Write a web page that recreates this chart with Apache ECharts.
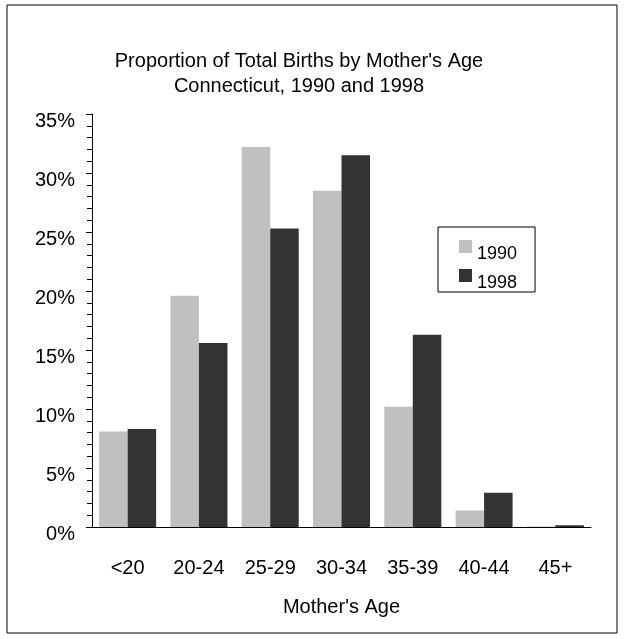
<!DOCTYPE html>
<html>
<head>
<meta charset="utf-8">
<script src="https://cdn.jsdelivr.net/npm/echarts@6/dist/echarts.min.js"></script>
<style>
  html, body { margin: 0; padding: 0; background: #fff; }
  #chart { width: 624px; height: 639px; }
</style>
</head>
<body>
<div id="chart"></div>
<script>
// Share of all births by mother's age group, Connecticut
const ageGroups = ['<20', '20-24', '25-29', '30-34', '35-39', '40-44', '45+'];
const births1990 = [8.1, 19.6, 32.2, 28.5, 10.2, 1.4, 0.05];
const births1998 = [8.3, 15.6, 25.3, 31.5, 16.3, 2.9, 0.15];
const seriesNames = ['1990', '1998'];

const FONT = '"Liberation Sans", Arial, sans-serif';

const chart = echarts.init(document.getElementById('chart'), null, { renderer: 'canvas' });

chart.setOption({
  backgroundColor: '#fff',
  animation: false,
  textStyle: { fontFamily: FONT, color: '#000' },
  title: {
    text: "Proportion of Total Births by Mother's Age\nConnecticut, 1990 and 1998",
    left: 294,
    textAlign: 'center',
    top: 44,
    textStyle: { fontFamily: FONT, fontSize: 20, fontWeight: 'normal', color: '#000', lineHeight: 25 }
  },
  legend: {
    orient: 'vertical',
    left: 438,
    top: 227,
    data: seriesNames,
    backgroundColor: '#fff',
    borderColor: '#000',
    borderWidth: 1,
    padding: [13, 18, 0, 21],
    itemWidth: 13,
    itemHeight: 13,
    itemGap: 6,
    icon: 'rect',
    formatter: '{t|{name}}',
    textStyle: {
      fontFamily: FONT,
      fontSize: 18,
      color: '#000',
      rich: {
        t: { fontFamily: FONT, fontSize: 18, color: '#000', padding: [15, 0, 0, 0] }
      }
    }
  },
  grid: { left: 92, right: 33, top: 114, bottom: 112, containLabel: false },
  xAxis: {
    type: 'category',
    data: ageGroups,
    name: "Mother's Age",
    nameLocation: 'middle',
    nameGap: 70,
    nameTextStyle: { fontFamily: FONT, fontSize: 20, color: '#000' },
    axisLine: { lineStyle: { color: '#000', width: 1 } },
    axisTick: { alignWithLabel: false, length: 6, lineStyle: { color: '#000' } },
    axisLabel: { margin: 31, fontFamily: FONT, fontSize: 20, color: '#000' }
  },
  yAxis: {
    type: 'value',
    min: 0,
    max: 35,
    interval: 5,
    axisLine: { show: true, lineStyle: { color: '#000', width: 1 } },
    axisTick: { show: true, length: 6, lineStyle: { color: '#000' } },
    minorTick: { show: true, splitNumber: 5, length: 5, lineStyle: { color: '#000' } },
    splitLine: { show: false },
    axisLabel: {
      margin: 17,
      fontFamily: FONT,
      fontSize: 20,
      color: '#000',
      verticalAlign: 'top',
      lineHeight: 14,
      formatter: v => v + '%'
    }
  },
  series: [
    {
      name: seriesNames[0],
      type: 'bar',
      data: births1990,
      barGap: '0%',
      barCategoryGap: '20%',
      itemStyle: { color: '#c0c0c0' }
    },
    {
      name: seriesNames[1],
      type: 'bar',
      data: births1998,
      barGap: '0%',
      barCategoryGap: '20%',
      itemStyle: { color: '#333333' }
    }
  ],
  graphic: [
    {
      type: 'rect',
      shape: { x: 7, y: 5, width: 610, height: 628 },
      style: { fill: 'none', stroke: '#000', lineWidth: 1 },
      silent: true,
      z: -1
    }
  ]
});
</script>
</body>
</html>
